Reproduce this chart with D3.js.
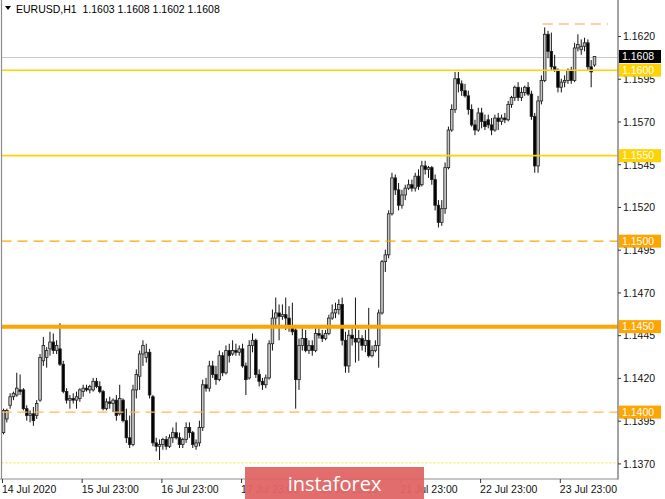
<!DOCTYPE html>
<html><head><meta charset="utf-8">
<script src="https://cdn.jsdelivr.net/npm/d3@7"></script>
<style>html,body{margin:0;padding:0;background:#fff;overflow:hidden}</style>
</head><body>
<svg id="c" width="665" height="499"></svg>
<script>
// ---- data: EURUSD H1 candles (14 Jul 23:00 .. 24 Jul 09:00) ----
const opens=[
1.1388,1.1396,1.1404,1.1409,1.1410,1.1413,1.1413,1.1402,1.1398,1.1399,
1.1398,1.1407,1.1430,1.1432,1.1437,1.1441,1.1436,1.1437,1.1428,1.1412,
1.1407,1.1408,1.1407,1.1408,1.1412,1.1414,1.1413,1.1413,1.1418,1.1415,
1.1412,1.1402,1.1406,1.1405,1.1407,1.1399,1.1407,1.1395,1.1385,1.1381,
1.1413,1.1421,1.1434,1.1432,1.1435,1.1409,1.1382,1.1380,1.1381,1.1384,
1.1380,1.1385,1.1388,1.1385,1.1381,1.1384,1.1391,1.1388,1.1380,1.1382,
1.1391,1.1416,1.1414,1.1427,1.1422,1.1419,1.1433,1.1423,1.1436,1.1434,
1.1436,1.1435,1.1437,1.1427,1.1420,1.1439,1.1442,1.1422,1.1418,1.1416,
1.1420,1.1440,1.1455,1.1458,1.1456,1.1457,1.1455,1.1450,1.1448,1.1419,
1.1439,1.1443,1.1436,1.1439,1.1436,1.1446,1.1445,1.1443,1.1446,1.1455,
1.1458,1.1460,1.1463,1.1442,1.1427,1.1445,1.1443,1.1441,1.1443,1.1439,
1.1442,1.1433,1.1436,1.1439,1.1458,1.1488,1.1492,1.1516,1.1537,1.1530,
1.1521,1.1527,1.1531,1.1533,1.1531,1.1538,1.1533,1.1544,1.1542,1.1543,
1.1536,1.1521,1.1511,1.1519,1.1543,1.1565,1.1577,1.1595,1.1592,1.1588,
1.1585,1.1577,1.1568,1.1565,1.1575,1.1570,1.1571,1.1568,1.1565,1.1572,
1.1570,1.1572,1.1571,1.1580,1.1584,1.1590,1.1584,1.1587,1.1590,1.1586,
1.1573,1.1544,1.1582,1.1594,1.1621,1.1611,1.1602,1.1600,1.1590,1.1593,
1.1594,1.1600,1.1594,1.1613,1.1612,1.1614,1.1616,1.1602,1.1603];
const highs=[
1.1402,1.1402,1.1411,1.1412,1.1423,1.1422,1.1414,1.1404,1.1401,1.1403,
1.1407,1.1434,1.1444,1.1438,1.1447,1.1446,1.1442,1.1452,1.1430,1.1414,
1.1410,1.1411,1.1412,1.1414,1.1416,1.1416,1.1416,1.1420,1.1420,1.1418,
1.1413,1.1408,1.1409,1.1408,1.1410,1.1416,1.1408,1.1402,1.1398,1.1416,
1.1425,1.1436,1.1442,1.1440,1.1437,1.1410,1.1385,1.1384,1.1385,1.1386,
1.1387,1.1391,1.1394,1.1388,1.1385,1.1394,1.1394,1.1389,1.1384,1.1395,
1.1419,1.1420,1.1430,1.1430,1.1427,1.1436,1.1435,1.1439,1.1440,1.1442,
1.1440,1.1439,1.1440,1.1429,1.1442,1.1446,1.1443,1.1425,1.1420,1.1422,
1.1442,1.1460,1.1467,1.1463,1.1463,1.1467,1.1462,1.1464,1.1451,1.1443,
1.1449,1.1448,1.1442,1.1442,1.1449,1.1449,1.1448,1.1448,1.1457,1.1463,
1.1464,1.1466,1.1467,1.1447,1.1448,1.1449,1.1467,1.1448,1.1445,1.1448,
1.1461,1.1439,1.1442,1.1460,1.1489,1.1495,1.1518,1.1540,1.1539,1.1534,
1.1530,1.1533,1.1536,1.1536,1.1540,1.1542,1.1547,1.1547,1.1544,1.1544,
1.1539,1.1524,1.1524,1.1546,1.1567,1.1580,1.1599,1.1599,1.1594,1.1592,
1.1588,1.1580,1.1571,1.1578,1.1578,1.1574,1.1574,1.1572,1.1574,1.1575,
1.1574,1.1575,1.1582,1.1585,1.1591,1.1593,1.1590,1.1591,1.1593,1.1588,
1.1575,1.1585,1.1597,1.1625,1.1623,1.1622,1.1609,1.1601,1.1595,1.1597,
1.1601,1.1602,1.1616,1.1621,1.1618,1.1619,1.1618,1.1606,1.1608];
const lows=[
1.1387,1.1394,1.1402,1.1407,1.1409,1.1410,1.1401,1.1395,1.1394,1.1392,
1.1396,1.1406,1.1427,1.1426,1.1433,1.1434,1.1434,1.1427,1.1411,1.1405,
1.1402,1.1405,1.1402,1.1406,1.1409,1.1412,1.1411,1.1412,1.1414,1.1411,
1.1401,1.1401,1.1402,1.1400,1.1395,1.1398,1.1394,1.1382,1.1379,1.1380,
1.1408,1.1413,1.1427,1.1429,1.1408,1.1380,1.1377,1.1372,1.1378,1.1378,
1.1379,1.1382,1.1384,1.1379,1.1379,1.1382,1.1385,1.1379,1.1378,1.1380,
1.1389,1.1412,1.1412,1.1420,1.1416,1.1418,1.1421,1.1422,1.1429,1.1433,
1.1433,1.1433,1.1426,1.1410,1.1419,1.1435,1.1420,1.1415,1.1413,1.1414,
1.1419,1.1436,1.1451,1.1442,1.1454,1.1448,1.1447,1.1445,1.1402,1.1413,
1.1436,1.1435,1.1434,1.1433,1.1435,1.1443,1.1441,1.1442,1.1445,1.1454,
1.1455,1.1457,1.1439,1.1423,1.1423,1.1439,1.1429,1.1430,1.1436,1.1435,
1.1432,1.1432,1.1435,1.1426,1.1457,1.1482,1.1490,1.1515,1.1527,1.1518,
1.1519,1.1524,1.1530,1.1529,1.1529,1.1530,1.1532,1.1539,1.1537,1.1533,
1.1518,1.1508,1.1509,1.1516,1.1542,1.1564,1.1575,1.1587,1.1585,1.1584,
1.1574,1.1567,1.1562,1.1564,1.1566,1.1565,1.1566,1.1562,1.1564,1.1565,
1.1568,1.1569,1.1570,1.1578,1.1582,1.1582,1.1582,1.1585,1.1585,1.1571,
1.1540,1.1540,1.1580,1.1593,1.1607,1.1600,1.1599,1.1587,1.1587,1.1590,
1.1592,1.1592,1.1593,1.1611,1.1609,1.1611,1.1600,1.1590,1.1602];
const closes=[
1.1401,1.1401,1.1409,1.1411,1.1414,1.1412,1.1402,1.1398,1.1399,1.1395,
1.1405,1.1432,1.1439,1.1436,1.1441,1.1436,1.1439,1.1428,1.1412,1.1407,
1.1408,1.1407,1.1409,1.1413,1.1414,1.1413,1.1415,1.1418,1.1415,1.1412,
1.1402,1.1406,1.1405,1.1407,1.1398,1.1408,1.1395,1.1385,1.1381,1.1413,
1.1422,1.1434,1.1439,1.1435,1.1410,1.1382,1.1380,1.1381,1.1384,1.1380,
1.1385,1.1388,1.1385,1.1381,1.1384,1.1391,1.1388,1.1381,1.1382,1.1391,
1.1416,1.1414,1.1427,1.1422,1.1419,1.1433,1.1423,1.1436,1.1433,1.1436,
1.1435,1.1437,1.1427,1.1419,1.1439,1.1442,1.1422,1.1418,1.1416,1.1420,
1.1440,1.1455,1.1458,1.1456,1.1457,1.1455,1.1450,1.1447,1.1419,1.1439,
1.1443,1.1436,1.1439,1.1436,1.1446,1.1445,1.1443,1.1446,1.1455,1.1458,
1.1460,1.1463,1.1442,1.1427,1.1445,1.1443,1.1441,1.1443,1.1439,1.1442,
1.1433,1.1436,1.1439,1.1458,1.1488,1.1492,1.1516,1.1537,1.1530,1.1521,
1.1527,1.1531,1.1533,1.1531,1.1538,1.1532,1.1544,1.1542,1.1543,1.1536,
1.1521,1.1511,1.1519,1.1543,1.1565,1.1577,1.1595,1.1592,1.1588,1.1585,
1.1577,1.1568,1.1565,1.1575,1.1570,1.1567,1.1568,1.1565,1.1572,1.1570,
1.1572,1.1571,1.1580,1.1584,1.1590,1.1584,1.1587,1.1590,1.1586,1.1573,
1.1544,1.1582,1.1594,1.1621,1.1611,1.1602,1.1600,1.1590,1.1593,1.1594,
1.1600,1.1594,1.1613,1.1615,1.1614,1.1616,1.1602,1.1599,1.1608];

const xTickIndex=[0,24,48,72,96,120,144,168];
const xTickLabels=["14 Jul 2020","15 Jul 23:00","16 Jul 23:00","17 Jul 23:00","20 Jul 23:00","21 Jul 23:00","22 Jul 23:00","23 Jul 23:00"];
const yTicks=[1.1620,1.1595,1.1570,1.1545,1.1520,1.1495,1.1470,1.1445,1.1420,1.1395,1.1370];
const levels=[1.1600,1.1550,1.1500,1.1450,1.1400];
const lowLevel=1.1370;
const recentHigh=1.1627;
const lastPrice=1.1608;
const headerText="EURUSD,H1  1.1603 1.1608 1.1602 1.1608";
const watermark="instaforex";

// ---- drawing ----
const svg=d3.select("#c");
const FONT="'Liberation Sans', Arial, sans-serif";
const plotL=1.5, plotR=618, plotB=479;
const n=closes.length;
const x=d3.scaleLinear().domain([0,n-1]).range([3.5,594.5]);
const y=d3.scaleLinear().domain([1.1370,1.1620]).range([463.4,36]);

const candles=d3.range(n).map(i=>({i,o:opens[i],h:Math.max(highs[i],opens[i],closes[i]),l:Math.min(lows[i],opens[i],closes[i]),c:closes[i]}));

// current price line (background)
svg.append("line").attr("x1",plotL).attr("x2",plotR).attr("y1",Math.round(y(lastPrice))+0.5).attr("y2",Math.round(y(lastPrice))+0.5)
  .attr("stroke","#c8c8c8").attr("stroke-width",1);

// candles
const g=svg.append("g");
g.selectAll("line.w").data(candles).join("line").attr("class","w")
  .attr("x1",d=>x(d.i)).attr("x2",d=>x(d.i)).attr("y1",d=>y(d.h)).attr("y2",d=>y(d.l))
  .attr("stroke","#111").attr("stroke-width",1);
const bw=2.6;
g.selectAll("rect.b").data(candles).join("rect").attr("class","b")
  .attr("x",d=>x(d.i)-bw/2).attr("width",bw)
  .attr("y",d=>Math.min(y(d.o),y(d.c)))
  .attr("height",d=>Math.max(1,Math.abs(y(d.o)-y(d.c))))
  .attr("fill",d=>d.c>=d.o?"#c4c4c4":"#000000")
  .attr("stroke","#222").attr("stroke-width",0.8);

// level lines
const lvlStyle=[
  {color:"#FFD200",w:1.6,dash:null,box:"#FFD200"},
  {color:"#FFD200",w:1.6,dash:null,box:"#FFD200"},
  {color:"#FFA500",w:1.3,dash:"10,6",box:"#FFA500"},
  {color:"#FFA500",w:4,dash:null,box:"#FFA500"},
  {color:"#FFB550",w:1.2,dash:"10,6",box:"#FFA500"}
];
levels.forEach((p,k)=>{
  const s=lvlStyle[k];
  svg.append("line").attr("x1",plotL).attr("x2",plotR).attr("y1",y(p)).attr("y2",y(p))
    .attr("stroke",s.color).attr("stroke-width",s.w).attr("stroke-dasharray",s.dash);
});
svg.append("line").attr("x1",plotL).attr("x2",plotR).attr("y1",y(lowLevel)-0.5).attr("y2",y(lowLevel)-0.5)
  .attr("stroke","#FFE55C").attr("stroke-width",1.3).attr("stroke-dasharray","2,2");
svg.append("line").attr("x1",x(163)-2).attr("x2",608).attr("y1",y(recentHigh)).attr("y2",y(recentHigh))
  .attr("stroke","#FFC080").attr("stroke-width",1.5).attr("stroke-dasharray","10,6");

// frame
svg.append("line").attr("x1",plotL).attr("x2",plotL).attr("y1",0).attr("y2",plotB).attr("stroke","#8c8c8c").attr("stroke-width",1.2);
svg.append("line").attr("x1",plotR).attr("x2",plotR).attr("y1",0).attr("y2",plotB+0.6).attr("stroke","#8c8c8c").attr("stroke-width",1.6);
svg.append("line").attr("x1",0).attr("x2",plotR).attr("y1",plotB).attr("y2",plotB).attr("stroke","#8c8c8c").attr("stroke-width",1.2);

// right axis
const yAxis=d3.axisRight(y).tickValues(yTicks).tickFormat(d3.format(".4f")).tickSize(3).tickPadding(2);
const ya=svg.append("g").attr("transform",`translate(${plotR},0)`).call(yAxis);
ya.select(".domain").remove();
ya.selectAll(".tick line").attr("stroke","#333");
ya.selectAll(".tick text").attr("font-family",FONT).attr("font-size","10.5px").attr("fill","#111").attr("dy","0.36em");

// bottom axis
const xAxis=d3.axisBottom(x).tickValues(xTickIndex).tickFormat((d,k)=>xTickLabels[k]).tickSize(4).tickPadding(3);
const xa=svg.append("g").attr("transform",`translate(0,${plotB})`).call(xAxis);
xa.select(".domain").remove();
xa.selectAll(".tick line").attr("stroke","#333").attr("transform","translate(-1.5,0)");
xa.selectAll(".tick text").attr("font-family",FONT).attr("font-size","10.5px").attr("fill","#111")
  .attr("text-anchor","start").attr("x",-2);

// level price boxes
function priceBox(p,fill){
  const yy=y(p);
  svg.append("rect").attr("x",plotR+1).attr("y",yy-6.5).attr("width",42).attr("height",13).attr("fill",fill);
  svg.append("text").attr("x",plotR+4).attr("y",yy).attr("dy","0.36em").attr("font-family",FONT).attr("font-size","10.5px")
    .attr("fill","#fff").text(d3.format(".4f")(p));
}
levels.forEach((p,k)=>priceBox(p,lvlStyle[k].box));
priceBox(lastPrice,"#000");

// header
svg.append("path").attr("d","M5,6 L11,6 L8,10 Z").attr("fill","#000");
svg.append("text").attr("x",16).attr("y",13).attr("font-family",FONT).attr("font-size","10.5px").attr("fill","#000")
  .attr("xml:space","preserve").style("white-space","pre").text(headerText);

// watermark
svg.append("rect").attr("x",245).attr("y",467).attr("width",179).attr("height",32).attr("fill","#e06565").attr("opacity",0.95);
svg.append("text").attr("x",334.5).attr("y",491).attr("text-anchor","middle").attr("font-family","'Open Sans', 'Noto Sans', sans-serif")
  .attr("font-size","20px").attr("fill","#fff").text(watermark);
</script>
</body></html>
